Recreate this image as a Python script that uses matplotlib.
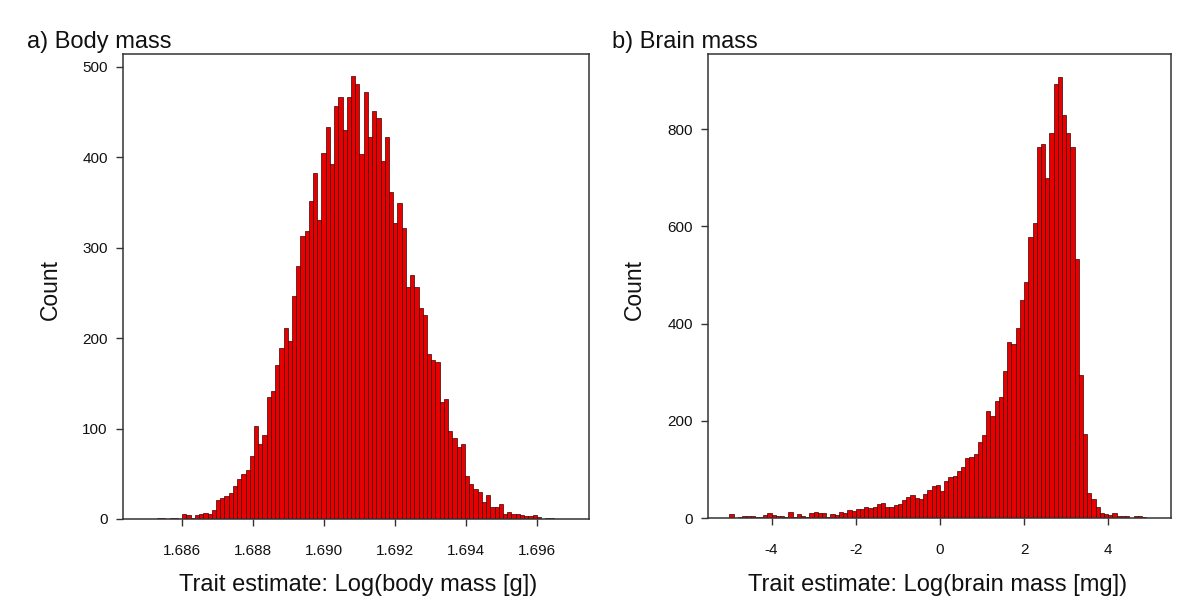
import numpy as np
import matplotlib
matplotlib.use("Agg")
import matplotlib.pyplot as plt

plt.rcParams['font.family'] = ['Liberation Sans', 'DejaVu Sans']
plt.rcParams['axes.unicode_minus'] = False

# ---------------- data ----------------
# a) Body mass histogram: equal-width bins
body_bin_width = 0.000119
body_first_edge_ref = 1.686          # a bin edge sits at this value
body_bins_before_ref = 6             # bins to the left of the reference edge
body_counts = [1, 1, 0, 1, 1, 0,
               5, 4, 1, 4, 5, 7, 5, 10, 21, 23, 25, 29, 36, 44, 50, 54, 70, 103, 83, 93, 135, 142,
               170, 189, 211, 197, 246, 280, 313, 318, 352, 383, 331, 405, 433, 392, 457, 466, 430,
               467, 490, 481, 403, 472, 422, 451, 443, 396, 422, 362, 327, 349, 322,
               256, 270, 256, 233, 226, 182, 176, 174, 129, 133, 97, 90, 80, 83, 48, 39, 33, 30,
               19, 26, 13, 13, 17, 5, 8, 5, 5, 4, 3, 3, 4, 2, 0, 1, 1]
body_xticks = [1.686, 1.688, 1.690, 1.692, 1.694, 1.696]
body_yticks = [0, 100, 200, 300, 400, 500]

# b) Brain mass histogram: bins of 0.1 starting at -5.0
brain_bin_start = -5.0
brain_bin_width = 0.1
brain_counts = [8, 0, 3, 5, 5, 5, 3, 3, 6, 10, 6, 5, 5, 3, 13, 3, 8, 5, 3, 10,
                13, 10, 10, 3, 8, 7, 13, 11, 16, 14, 18, 18, 22, 21, 22, 29, 31, 23, 22, 27,
                28, 38, 44, 47, 42, 40, 49, 58, 66, 68,
                56, 77, 84, 86, 97, 104, 123, 126, 131, 157,
                171, 220, 210, 241, 250, 303, 363, 359, 392, 449,
                486, 579, 608, 764, 770, 699, 793, 894, 908, 829,
                793, 764, 533, 294, 173, 52, 40, 22, 10, 8,
                6, 11, 5, 4, 4, 1, 4, 4, 3, 1]
brain_xticks = [-4, -2, 0, 2, 4]
brain_yticks = [0, 200, 400, 600, 800]

titles = ["a) Body mass", "b) Brain mass"]
xlabels = ["Trait estimate: Log(body mass [g])", "Trait estimate: Log(brain mass [mg])"]
ylabel = "Count"

# ---------------- figure ----------------
W, H = 1200, 615
fig = plt.figure(figsize=(W / 100, H / 100), dpi=100)

def px_axes(x0, y0, x1, y1):
    return fig.add_axes([x0 / W, 1 - y1 / H, (x1 - x0) / W, (y1 - y0) / H])

ax1 = px_axes(123, 54, 589, 519)
ax2 = px_axes(708, 54, 1171, 518)

bar_color = '#e80000'
edge_color = '#3a0000'

body_start = body_first_edge_ref - body_bins_before_ref * body_bin_width
body_left = body_start + body_bin_width * np.arange(len(body_counts))
ax1.bar(body_left, body_counts, width=body_bin_width, align='edge',
        color=bar_color, edgecolor=edge_color, linewidth=0.5)

brain_left = brain_bin_start + brain_bin_width * np.arange(len(brain_counts))
ax2.bar(brain_left, brain_counts, width=brain_bin_width, align='edge',
        color=bar_color, edgecolor=edge_color, linewidth=0.5)

ax1.set_xlim(1.68433, 1.69747)
ax1.set_ylim(0, 514)
ax2.set_xlim(-5.51, 5.49)
ax2.set_ylim(0, 955)

ax1.set_xticks(body_xticks)
ax1.set_xticklabels([f"{v:.3f}" for v in body_xticks])
ax1.set_yticks(body_yticks)
ax1.set_yticklabels([str(v) for v in body_yticks])
ax2.set_xticks(brain_xticks)
ax2.set_xticklabels([str(v) for v in brain_xticks])
ax2.set_yticks(brain_yticks)
ax2.set_yticklabels([str(v) for v in brain_yticks])

for ax in (ax1, ax2):
    for s in ax.spines.values():
        s.set_linewidth(1.1)
        s.set_color('#333333')
    ax.tick_params(axis='both', direction='out', length=5, width=1, color='#333333',
                   labelsize=11, labelcolor='#111111')
    ax.tick_params(axis='x', pad=13)
    ax.tick_params(axis='y', pad=6)

# titles
fig.text(27 / W, 1 - 48 / H, titles[0], fontsize=17, ha='left', va='baseline', color='#111111')
fig.text(612 / W, 1 - 48 / H, titles[1], fontsize=17, ha='left', va='baseline', color='#111111')

# axis labels
fig.text(358 / W, 1 - 591 / H, xlabels[0], fontsize=17, ha='center', va='baseline', color='#111111')
fig.text(938 / W, 1 - 591 / H, xlabels[1], fontsize=17, ha='center', va='baseline', color='#111111')
fig.text(50 / W, 1 - 289 / H, ylabel, fontsize=16.5, rotation=90, ha='center', va='center', color='#111111')
fig.text(634 / W, 1 - 289 / H, ylabel, fontsize=16.5, rotation=90, ha='center', va='center', color='#111111')

fig.savefig("out.png", dpi=100)
